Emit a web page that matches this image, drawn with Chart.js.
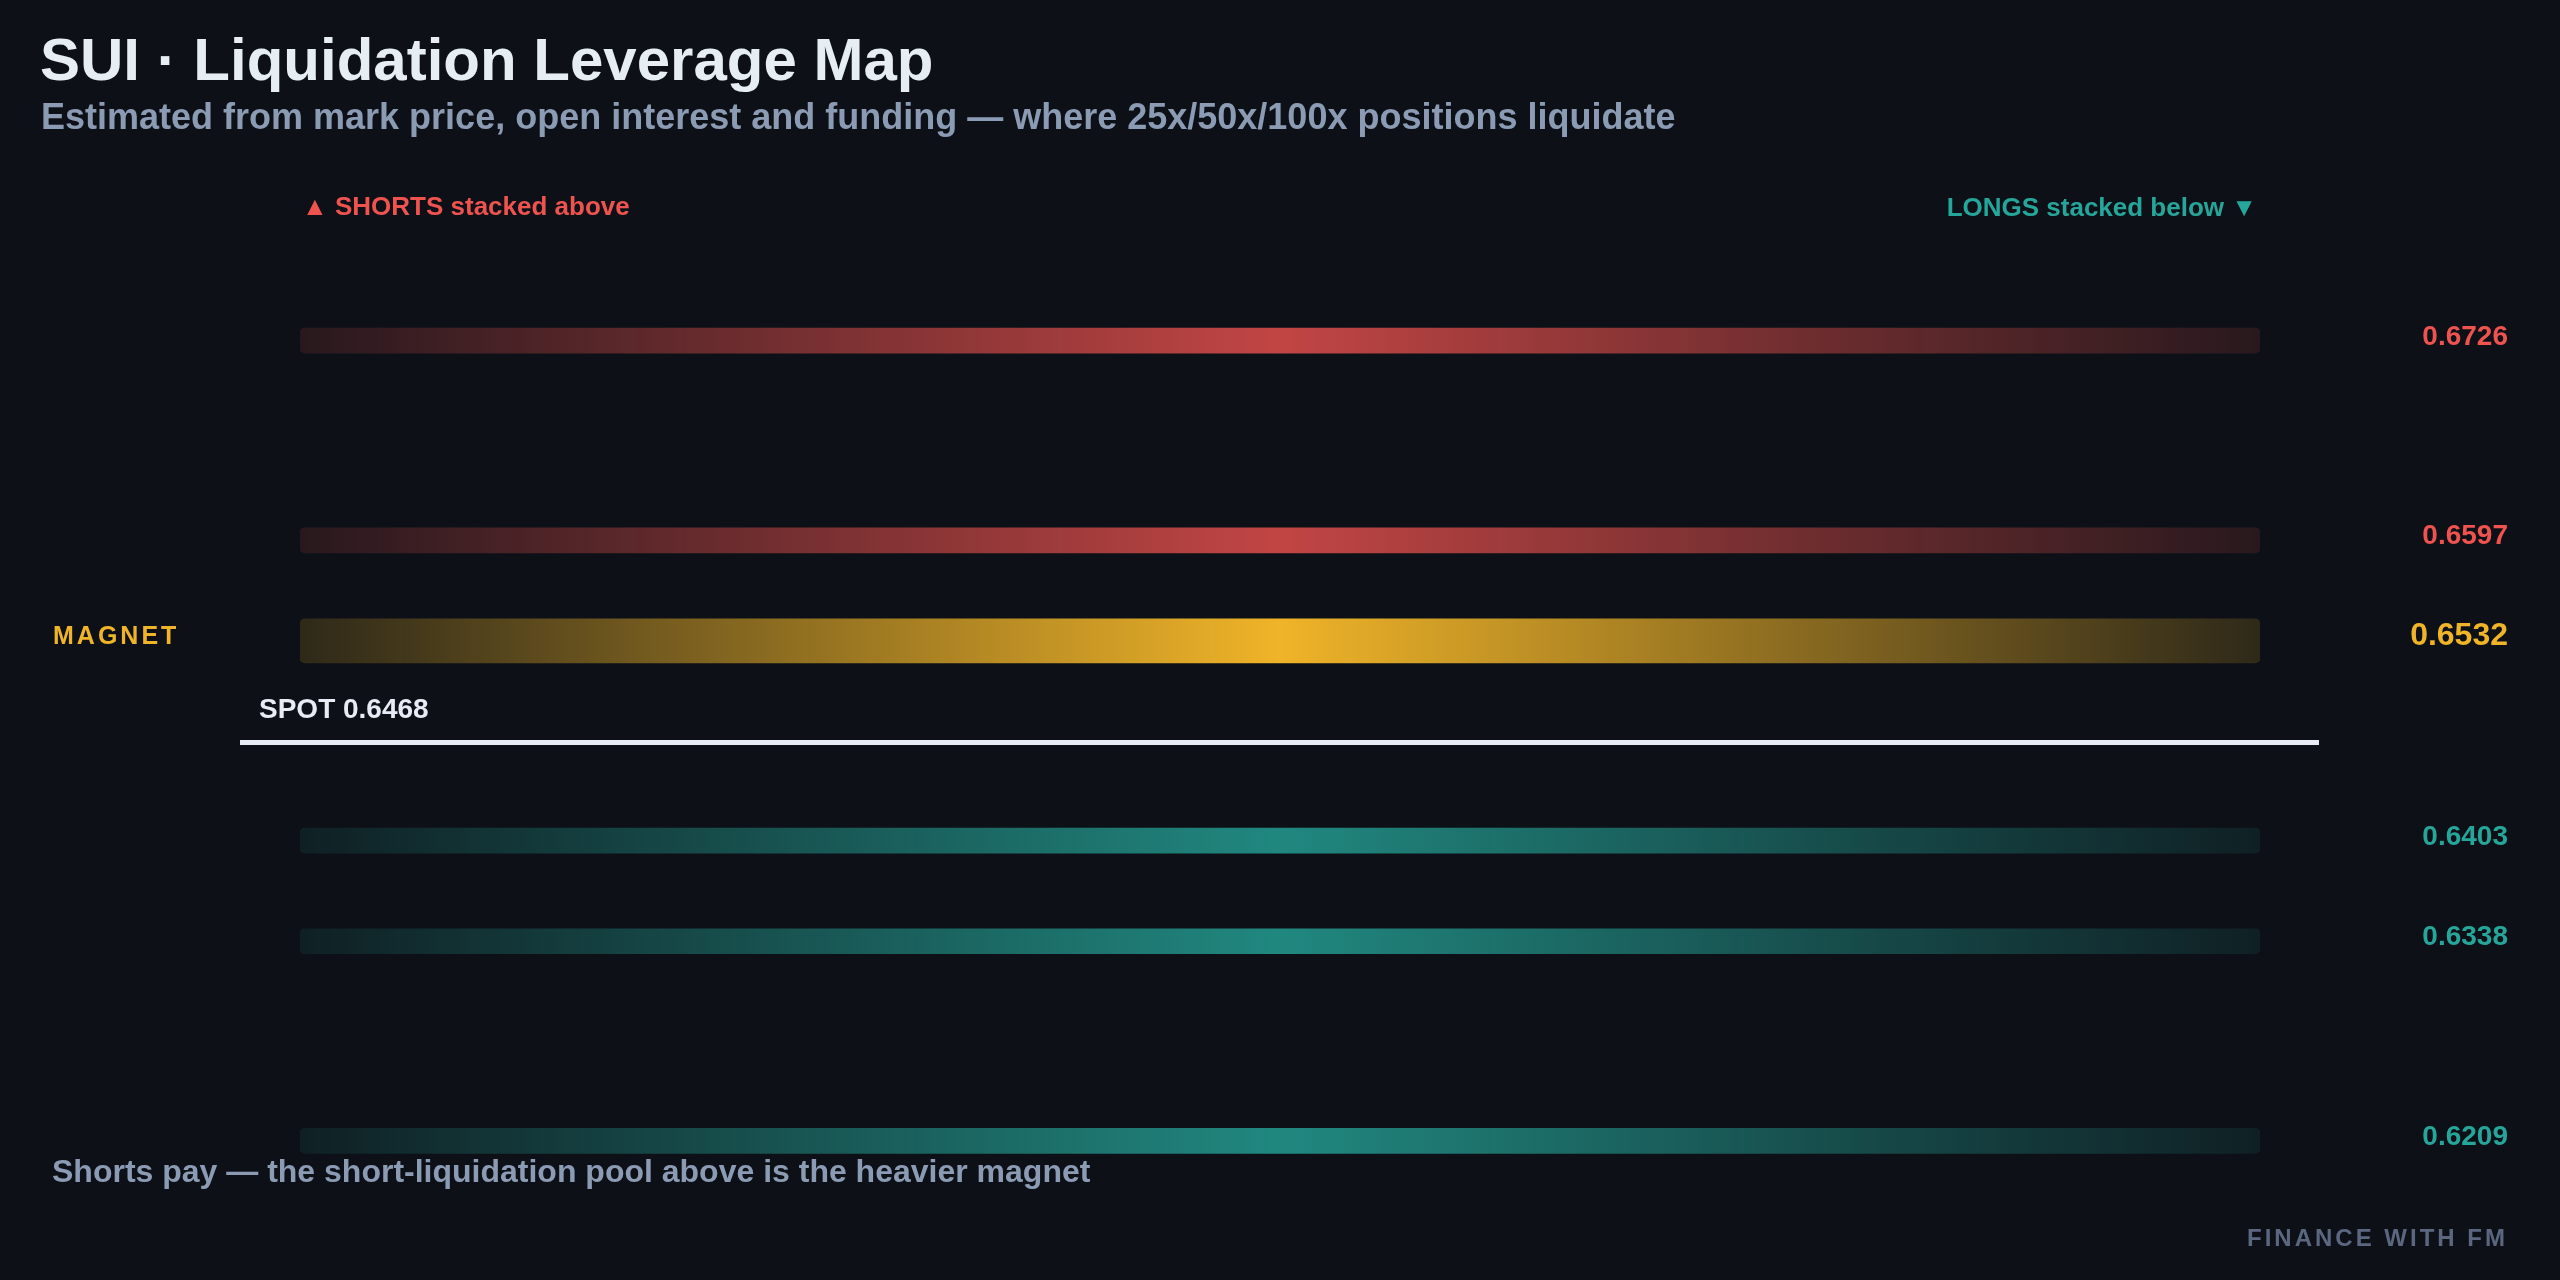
<!DOCTYPE html>
<html>
<head>
<meta charset="utf-8">
<script src="https://cdn.jsdelivr.net/npm/chart.js@4.4.1/dist/chart.umd.min.js"></script>
<style>
  html, body { margin:0; padding:0; background:#0d1117; }
  body { width:2560px; height:1280px; position:relative; overflow:hidden; font-family:"Liberation Sans", Arial, sans-serif; }
  #wrap { position:absolute; left:0; top:0; width:2560px; height:1280px; }
  .t { position:absolute; white-space:nowrap; line-height:1; font-weight:700; }
  #title { left:40px; top:30px; font-size:60px; color:#e6edf3; }
  #subtitle { left:41px; top:99px; font-size:36px; color:#8b9bb4; }
  #note { left:52px; top:1155px; font-size:32px; color:#8b9bb4; }
  #brand { right:52px; top:1226px; font-size:24px; color:#5b6781; letter-spacing:3px; }
</style>
</head>
<body>
<div id="wrap"><canvas id="c" width="2560" height="1280"></canvas></div>
<div class="t" id="title">SUI · Liquidation Leverage Map</div>
<div class="t" id="subtitle">Estimated from mark price, open interest and funding — where 25x/50x/100x positions liquidate</div>
<div class="t" id="note">Shorts pay — the short-liquidation pool above is the heavier magnet</div>
<div class="t" id="brand">FINANCE WITH FM</div>
<script>
// ---- data ----
const shortLevels = [0.6726, 0.6597];
const magnetLevels = [0.6532];
const longLevels = [0.6403, 0.6338, 0.6209];
const spotPrice = 0.6468;
const priceMin = 0.6145;
const priceMax = 0.6791;
const shortsLabel = "▲ SHORTS stacked above";
const longsLabel = "LONGS stacked below ▼";
const magnetLabel = "MAGNET";
const spotLabel = "SPOT";

const RED = [239, 83, 80];
const GOLD = [240, 180, 41];
const TEAL = [38, 166, 154];

function grad(rgb, edgeA, midA) {
  return (ctx) => {
    const area = ctx.chart.chartArea;
    if (!area) return `rgba(${rgb},${midA})`;
    const g = ctx.chart.ctx.createLinearGradient(area.left, 0, area.right, 0);
    g.addColorStop(0, `rgba(${rgb},${edgeA})`);
    g.addColorStop(0.5, `rgba(${rgb},${midA})`);
    g.addColorStop(1, `rgba(${rgb},${edgeA})`);
    return g;
  };
}

const toBars = arr => arr.map(v => ({ y: v, x: [0, 1] }));

const labelsPlugin = {
  id: 'liqLabels',
  afterDatasetsDraw(chart) {
    const ctx = chart.ctx;
    const ys = chart.scales.y;
    const area = chart.chartArea;
    const F = '"Liberation Sans", Arial, sans-serif';
    ctx.save();
    // spot line
    const sy = ys.getPixelForValue(spotPrice);
    ctx.fillStyle = '#e6ebf5';
    ctx.fillRect(area.left - 60, sy, area.right - area.left + 119, 5);
    ctx.textBaseline = 'alphabetic';
    ctx.font = `bold 28px ${F}`;
    ctx.textAlign = 'left';
    ctx.fillText(`${spotLabel} ${spotPrice.toFixed(4)}`, area.left - 41, sy - 22);

    // headers
    ctx.font = `bold 26px ${F}`;
    ctx.fillStyle = `rgb(${RED})`;
    ctx.textAlign = 'left';
    ctx.fillText(shortsLabel, area.left + 2, 215);
    ctx.fillStyle = `rgb(${TEAL})`;
    ctx.textAlign = 'right';
    ctx.fillText(longsLabel, area.right - 3, 216);

    // right labels
    ctx.textAlign = 'right';
    const rx = area.right + 248;
    ctx.font = `bold 28px ${F}`;
    ctx.fillStyle = `rgb(${RED})`;
    shortLevels.forEach(v => ctx.fillText(v.toFixed(4), rx, ys.getPixelForValue(v) + 4));
    ctx.fillStyle = `rgb(${TEAL})`;
    longLevels.forEach(v => ctx.fillText(v.toFixed(4), rx, ys.getPixelForValue(v) + 4));
    ctx.font = `bold 32px ${F}`;
    ctx.fillStyle = `rgb(${GOLD})`;
    magnetLevels.forEach(v => ctx.fillText(v.toFixed(4), rx, ys.getPixelForValue(v) + 4));

    // magnet left label
    ctx.textAlign = 'left';
    ctx.font = `bold 25px ${F}`;
    try { ctx.letterSpacing = '3px'; } catch (e) {}
    magnetLevels.forEach(v => ctx.fillText(magnetLabel, 53, ys.getPixelForValue(v) + 3));
    ctx.restore();
  }
};

new Chart(document.getElementById('c'), {
  type: 'bar',
  data: {
    datasets: [
      { label: 'Shorts', data: toBars(shortLevels), barThickness: 25, backgroundColor: grad(RED, 0.12, 0.8) },
      { label: 'Magnet', data: toBars(magnetLevels), barThickness: 44, backgroundColor: grad(GOLD, 0.15, 1.0) },
      { label: 'Longs', data: toBars(longLevels), barThickness: 25, backgroundColor: grad(TEAL, 0.1, 0.8) }
    ]
  },
  options: {
    indexAxis: 'y',
    responsive: false,
    animation: false,
    devicePixelRatio: 1,
    grouped: false,
    borderRadius: 5,
    borderSkipped: false,
    layout: { padding: { left: 300, right: 300, top: 240, bottom: 40 } },
    scales: {
      x: { type: 'linear', min: 0, max: 1, display: false, offset: false },
      y: { type: 'linear', min: priceMin, max: priceMax, display: false, offset: false }
    },
    plugins: { legend: { display: false }, tooltip: { enabled: false }, title: { display: false } }
  },
  plugins: [labelsPlugin]
});
</script>
</body>
</html>
